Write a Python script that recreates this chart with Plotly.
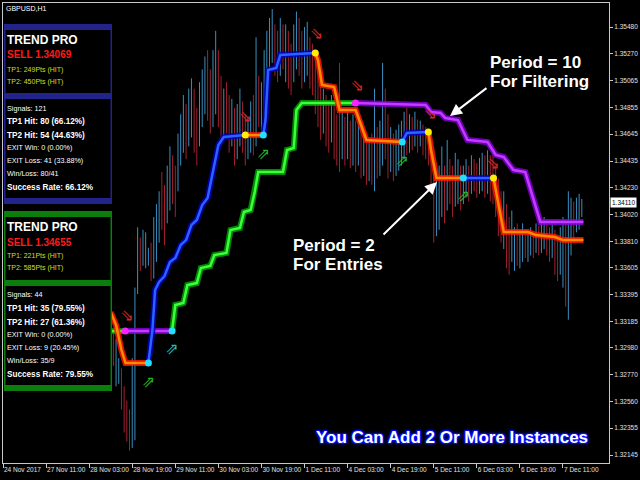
import plotly.graph_objects as go

# ---------------- data ----------------
x_tick_idx = [0, 16, 32, 48, 64, 80, 96, 112, 128, 144, 160, 176, 192, 208]
x_tick_text = ["24 Nov 2017", "27 Nov 11:00", "28 Nov 03:00", "28 Nov 19:00",
               "29 Nov 11:00", "30 Nov 03:00", "30 Nov 19:00", "1 Dec 11:00",
               "4 Dec 03:00", "4 Dec 19:00", "5 Dec 11:00", "6 Dec 03:00",
               "6 Dec 19:00", "7 Dec 11:00"]
y_tick_vals = [1.35480, 1.35270, 1.35065, 1.34855, 1.34645, 1.34435, 1.34230,
               1.34020, 1.33810, 1.33605, 1.33395, 1.33185, 1.32980, 1.32770,
               1.32560, 1.32355, 1.32145]
last_price = 1.34110

first_bar = 40
bar_low = [
    1.3300, 1.3284, 1.3268, 1.3270, 1.3250, 1.3232, 1.3225, 1.3218, 1.3220, 1.3226,
    1.3340, 1.3358, 1.3362, 1.3360, 1.3362, 1.3350, 1.3352, 1.3365, 1.3380, 1.3390,
    1.3378, 1.3395, 1.3405, 1.3410, 1.3400, 1.3420, 1.3440, 1.3450, 1.3445, 1.3455,
    1.3462, 1.3450, 1.3440, 1.3455, 1.3470, 1.3480, 1.3475, 1.3465, 1.3470, 1.3480,
    1.3470, 1.3455, 1.3460, 1.3465, 1.3450, 1.3455, 1.3440, 1.3445, 1.3455, 1.3450,
    1.3440, 1.3445, 1.3450, 1.3448, 1.3455, 1.3470, 1.3465, 1.3480, 1.3500, 1.3515,
    1.3520, 1.3510, 1.3505, 1.3510, 1.3515, 1.3505, 1.3500, 1.3495, 1.3505, 1.3515,
    1.3510, 1.3500, 1.3505, 1.3510, 1.3500, 1.3495, 1.3480, 1.3470, 1.3460, 1.3465,
    1.3455, 1.3450, 1.3458, 1.3445, 1.3440, 1.3435, 1.3445, 1.3440, 1.3445, 1.3438,
    1.3440, 1.3435, 1.3440, 1.3430, 1.3432, 1.3425, 1.3428, 1.3425, 1.3420, 1.3430,
    1.3432, 1.3440, 1.3445, 1.3430, 1.3435, 1.3428, 1.3432, 1.3436, 1.3440, 1.3445,
    1.3448, 1.3450, 1.3452, 1.3455, 1.3450, 1.3455, 1.3448, 1.3445, 1.3440, 1.3420,
    1.3380, 1.3385, 1.3390, 1.3400, 1.3395, 1.3405, 1.3410, 1.3400, 1.3408, 1.3410,
    1.3405, 1.3410, 1.3415, 1.3412, 1.3418, 1.3420, 1.3415, 1.3418, 1.3420, 1.3415,
    1.3418, 1.3412, 1.3410, 1.3400, 1.3385, 1.3380, 1.3375, 1.3360, 1.3355, 1.3365,
    1.3358, 1.3362, 1.3360, 1.3365, 1.3368, 1.3365, 1.3370, 1.3368, 1.3372, 1.3370,
    1.3372, 1.3375, 1.3370, 1.3365, 1.3368, 1.3355, 1.3350, 1.3355, 1.3345, 1.3330,
    1.3320, 1.3370, 1.3380, 1.3388, 1.3390, 1.3400,
]
bar_high = [
    1.3335, 1.3311, 1.3305, 1.3290, 1.3282, 1.3268, 1.3257, 1.3250, 1.3290, 1.3345,
    1.3392, 1.3384, 1.3390, 1.3388, 1.3376, 1.3380, 1.3400, 1.3410, 1.3420, 1.3435,
    1.3425, 1.3440, 1.3455, 1.3448, 1.3440, 1.3465, 1.3480, 1.3495, 1.3488, 1.3500,
    1.3508, 1.3500, 1.3485, 1.3505, 1.3515, 1.3525, 1.3530, 1.3515, 1.3530, 1.3545,
    1.3530, 1.3510, 1.3500, 1.3505, 1.3495, 1.3492, 1.3485, 1.3488, 1.3500, 1.3490,
    1.3480, 1.3478, 1.3490, 1.3495, 1.3540, 1.3510, 1.3505, 1.3530, 1.3545, 1.3555,
    1.3562, 1.3550, 1.3545, 1.3555, 1.3550, 1.3550, 1.3545, 1.3535, 1.3550, 1.3560,
    1.3555, 1.3545, 1.3548, 1.3552, 1.3540, 1.3535, 1.3525, 1.3520, 1.3510, 1.3500,
    1.3495, 1.3490, 1.3495, 1.3490, 1.3480, 1.3520, 1.3485, 1.3478, 1.3482, 1.3475,
    1.3480, 1.3475, 1.3478, 1.3470, 1.3465, 1.3460, 1.3462, 1.3465, 1.3500, 1.3470,
    1.3475, 1.3520, 1.3500, 1.3480, 1.3470, 1.3465, 1.3468, 1.3472, 1.3475, 1.3482,
    1.3485, 1.3480, 1.3478, 1.3482, 1.3476, 1.3475, 1.3472, 1.3470, 1.3468, 1.3460,
    1.3440, 1.3430, 1.3440, 1.3455, 1.3440, 1.3460, 1.3445, 1.3440, 1.3450, 1.3445,
    1.3440, 1.3440, 1.3445, 1.3440, 1.3448, 1.3445, 1.3442, 1.3446, 1.3450, 1.3448,
    1.3452, 1.3448, 1.3450, 1.3440, 1.3430, 1.3420, 1.3420, 1.3410, 1.3400, 1.3405,
    1.3392, 1.3395, 1.3390, 1.3395, 1.3390, 1.3388, 1.3392, 1.3388, 1.3395, 1.3393,
    1.3398, 1.3400, 1.3395, 1.3392, 1.3396, 1.3390, 1.3385, 1.3392, 1.3400, 1.3398,
    1.3420, 1.3415, 1.3412, 1.3415, 1.3418, 1.3414,
]
bar_dir = ("dduudddduu" "uduuuduuud" "duudduuudu" "udduuudduu" "ddudduduud"
           "duududuuuu" "uddududduu" "dduudddddu" "ddudddudud" "ududududud"
           "uudduduuuu" "dudududddd" "duuududduu" "duududduud" "uddddduddu"
           "uduuduudud" "uuddudduud" "uuduuu")

# Trend Pro, period 2 (entries): vertices (bar index, price) and trend of each segment
fast_idx = [40, 42, 44, 45.5, 54, 55.5, 56.5, 58, 60, 62, 64, 66, 68, 70, 72, 74, 76,
            78, 80, 82, 90, 96.7, 97.5, 98.5, 101.5, 103, 116, 117, 118.5, 123, 125,
            131, 135, 148.3, 150, 158, 159, 161, 171, 182.2, 183, 186, 195, 198, 205,
            208, 215.6]
fast_val = [1.33259, 1.33158, 1.32963, 1.32862, 1.32862, 1.33119, 1.33431, 1.33493,
            1.33540, 1.33649, 1.33680, 1.33781, 1.33820, 1.33937, 1.33976, 1.34093,
            1.34148, 1.34366, 1.34561, 1.34623, 1.34638, 1.34638, 1.34755, 1.35145,
            1.35161, 1.35262, 1.35277, 1.35223, 1.35028, 1.35012, 1.34833, 1.34833,
            1.34600, 1.34584, 1.34654, 1.34662, 1.34522, 1.34303, 1.34303, 1.34303,
            1.34210, 1.33883, 1.33883, 1.33859, 1.33844, 1.33820, 1.33820]
fast_trend = ("dddd" "uuuuuuuuuuuuuuuu" "d" "uuuuu" "ddddddd" "uu" "ddd" "u" "ddddddd")

# Trend Pro, period 10 (filter)
slow_idx = [40, 45.4, 62.8, 64, 67, 68.5, 72, 73.5, 77, 78.5, 83, 84.5, 88, 89.5, 92,
            93.5, 94.8, 104, 105.5, 108, 109, 111, 130.9, 157, 159, 162.5, 164.3, 169,
            172.5, 180, 183, 186, 189.6, 194, 199.6, 215.6]
slow_val = [1.33111, 1.33111, 1.33111, 1.33314, 1.33329, 1.33470, 1.33485, 1.33602,
            1.33618, 1.33703, 1.33719, 1.33898, 1.33914, 1.34039, 1.34054, 1.34194,
            1.34350, 1.34350, 1.34522, 1.34537, 1.34833, 1.34888, 1.34888, 1.34872,
            1.34818, 1.34810, 1.34771, 1.34755, 1.34600, 1.34584, 1.34483, 1.34467,
            1.34366, 1.34350, 1.33961, 1.33961]
slow_trend = ("u" "d" "uuuuuuuuuuuuuuuuuuuu" "ddddddddddddd")

# signal arrows
sig_idx = [46, 54, 62.8, 90, 96.7, 116.4, 131.6, 148.3, 158.7, 171, 182]
sig_val = [1.33220, 1.32706, 1.32963, 1.34771, 1.34483, 1.35418, 1.35012, 1.34428,
           1.34794, 1.34155, 1.34405]
sig_kind = ["sell", "buy", "buy2", "sell", "buy", "sell", "sell", "buy", "sell",
            "buy", "sell"]

panel1_head = ["TREND PRO", "SELL 1.34069", "TP1: 249Pts (HIT)", "TP2: 450Pts (HIT)"]
panel1_stats = ["Signals: 121", "TP1 Hit: 80 (66.12%)", "TP2 Hit: 54 (44.63%)",
                "EXIT Win: 0 (0.00%)", "EXIT Loss: 41 (33.88%)", "Win/Loss: 80/41",
                "Success Rate: 66.12%"]
panel2_head = ["TREND PRO", "SELL 1.34655", "TP1: 221Pts (HIT)", "TP2: 585Pts (HIT)"]
panel2_stats = ["Signals: 44", "TP1 Hit: 35 (79.55%)", "TP2 Hit: 27 (61.36%)",
                "EXIT Win: 0 (0.00%)", "EXIT Loss: 9 (20.45%)", "Win/Loss: 35/9",
                "Success Rate: 79.55%"]

# ---------------- geometry helpers ----------------
W, H = 640, 480
ML, MR, MT, MB = 3, 31, 3, 17
PW, PH = W - ML - MR, H - MT - MB


def fx(px):
    return (px - ML) / PW


def fy(py):
    return (H - MB - py) / PH


FONT = "Liberation Sans"
fig = go.Figure()

# ---------------- price bars ----------------
for d, col in (("u", "#3a8fc0"), ("d", "#a3202e")):
    xs, ys = [], []
    for k, (lo, hi) in enumerate(zip(bar_low, bar_high)):
        if bar_dir[k] == d:
            i = first_bar + k
            xs += [i, i, None]
            ys += [lo, hi, None]
    fig.add_trace(go.Scatter(x=xs, y=ys, mode="lines",
                             line=dict(color=col, width=1), hoverinfo="skip"))


def runs(idx, val, trend):
    out = {}
    start = 0
    n = len(trend)
    for k in range(1, n + 1):
        if k == n or trend[k] != trend[start]:
            t = trend[start]
            xs, ys = out.setdefault(t, ([], []))
            xs.extend(list(idx[start:k + 1]) + [None])
            ys.extend(list(val[start:k + 1]) + [None])
            start = k
    return out


line_styles = {
    ("fast", "d"): ("#ff8a00", "rgba(255,20,0,0.85)"),
    ("fast", "u"): ("#2a62ff", "rgba(0,0,190,0.85)"),
    ("slow", "u"): ("#3cff3c", "rgba(0,160,0,0.85)"),
    ("slow", "d"): ("#c23cff", "rgba(130,0,210,0.85)"),
}
for name, idx, val, trend in (("slow", slow_idx, slow_val, slow_trend),
                              ("fast", fast_idx, fast_val, fast_trend)):
    segs = runs(idx, val, trend)
    for t, (xs, ys) in segs.items():
        core, glow = line_styles[(name, t)]
        fig.add_trace(go.Scatter(x=xs, y=ys, mode="lines",
                                 line=dict(color=glow, width=6), hoverinfo="skip"))
        fig.add_trace(go.Scatter(x=xs, y=ys, mode="lines",
                                 line=dict(color=core, width=2.5), hoverinfo="skip"))
    # signal dots at trend changes
    dx, dy, dc = [], [], []
    for k in range(1, len(trend)):
        if trend[k] != trend[k - 1]:
            dx.append(idx[k])
            dy.append(val[k])
            if name == "fast":
                dc.append("#ffee00" if trend[k] == "d" else "#22e0ff")
            else:
                dc.append("#ff20ff" if trend[k] == "d" else "#22e0ff")
    fig.add_trace(go.Scatter(x=dx, y=dy, mode="markers",
                             marker=dict(color=dc, size=7), hoverinfo="skip"))

# signal arrows
arrow_glyph = {"sell": "⇘", "buy": "⇗", "buy2": "⇗"}
arrow_col = {"sell": "#d42424", "buy": "#22b422", "buy2": "#22b8b8"}
fig.add_trace(go.Scatter(
    x=sig_idx, y=sig_val, mode="text",
    text=[arrow_glyph[k] for k in sig_kind],
    textfont=dict(family="DejaVu Sans", size=16, color=[arrow_col[k] for k in sig_kind]),
    hoverinfo="skip"))

# ---------------- panels ----------------
shapes = []
annotations = []


def rect(x0, y0, x1, y1, color):
    shapes.append(dict(type="rect", xref="paper", yref="paper", layer="above",
                       x0=fx(x0), x1=fx(x1), y0=fy(y1), y1=fy(y0),
                       fillcolor=color, line=dict(width=0)))


def text(px, py, s, size, color, bold=False, anchor="left"):
    annotations.append(dict(xref="paper", yref="paper", x=fx(px), y=fy(py),
                            xanchor=anchor, yanchor="middle", showarrow=False,
                            borderpad=0,
                            text=("<b>%s</b>" % s) if bold else s,
                            font=dict(family=FONT, size=size, color=color)))


def panel(top, sep, bottom, color, head, stats, head_y, stats_y):
    rect(4, top, 112, bottom + 6, "#000000")
    rect(4, top, 112, top + 6, color)
    rect(4, sep, 112, sep + 6, color)
    rect(4, bottom, 112, bottom + 6, color)
    rect(4, top, 5.5, bottom + 6, color)
    rect(110.5, top, 112, bottom + 6, color)
    text(6, head_y[0], head[0], 12, "#ffffff", bold=True)
    text(6, head_y[1], head[1], 10, "#ff1a1a", bold=True)
    text(6, head_y[2], head[2], 7, "#dcdc1e")
    text(6, head_y[3], head[3], 7, "#dcdc1e")
    for k, s in enumerate(stats):
        b = s.startswith("TP") or s.startswith("Success")
        text(6, stats_y[k], s, 8.2 if b else 7.2, "#ffffff", bold=b)


panel(24, 93, 198, "#23238c", panel1_head, panel1_stats,
      [40, 54, 70, 82], [108, 122, 135, 147, 160, 173, 187])
panel(211, 280, 385, "#0b7e0b", panel2_head, panel2_stats,
      [227, 242, 256, 268], [294, 308, 322, 334, 347, 360, 374])

# symbol caption
text(5, 8, "GBPUSD,H1", 7, "#ffffff")

# explanatory texts
text(489, 62, "Period = 10", 17, "#ffffff", bold=True)
text(489, 81, "For Filtering", 17, "#ffffff", bold=True)
text(292, 245, "Period = 2", 17, "#ffffff", bold=True)
text(292, 264, "For Entries", 17, "#ffffff", bold=True)
annotations.append(dict(
    xref="paper", yref="paper", x=fx(315), y=fy(437), xanchor="left", yanchor="middle",
    showarrow=False, text="<b>You Can Add 2 Or More Instances</b>", borderpad=0,
    font=dict(family=FONT, size=17, color="#ffffff",
              shadow="1px 1px 1px #0010ff, -1px -1px 1px #0010ff, 1px -1px 1px #0010ff, "
                     "-1px 1px 1px #0010ff, 0px 0px 4px #0010ff")))

# white pointer arrows
for hx, hy, tx, ty in ((450, 116, 488, 87), (437, 182, 382, 236)):
    annotations.append(dict(xref="paper", yref="paper", x=fx(hx), y=fy(hy),
                            ax=tx - hx, ay=ty - hy, text="", showarrow=True,
                            arrowhead=2, arrowsize=1.2, arrowwidth=2,
                            arrowcolor="#ffffff"))

# current price label
annotations.append(dict(xref="paper", yref="y", x=1, y=last_price, xanchor="left",
                        yanchor="middle", xshift=1, showarrow=False,
                        text="1.34110", bgcolor="#ffffff", borderpad=1,
                        font=dict(family=FONT, size=6.5, color="#000000")))

fig.update_layout(
    width=W, height=H,
    margin=dict(l=ML, r=MR, t=MT, b=MB, pad=0, autoexpand=False),
    paper_bgcolor="#000000", plot_bgcolor="#000000",
    showlegend=False,
    shapes=shapes, annotations=annotations,
    xaxis=dict(range=[0, 225.1], tickvals=x_tick_idx, ticktext=x_tick_text,
               ticks="outside", ticklen=4, tickcolor="#c8c8c8", tickangle=0,
               ticklabelposition="outside right", automargin=False,
               tickfont=dict(family=FONT, size=6.5, color="#e0e0e0"),
               showgrid=False, zeroline=False, showline=True, mirror=True,
               linecolor="#c8c8c8", linewidth=1, fixedrange=True),
    yaxis=dict(range=[1.32083, 1.35667], side="right", automargin=False,
               tickvals=y_tick_vals, ticktext=["%.5f" % v for v in y_tick_vals],
               ticks="outside", ticklen=3, tickcolor="#c8c8c8",
               tickfont=dict(family=FONT, size=6.5, color="#e0e0e0"),
               showgrid=False, zeroline=False, showline=True, mirror=True,
               linecolor="#c8c8c8", linewidth=1, fixedrange=True),
)

fig.write_html("out.html", config={"displayModeBar": False},
               post_script="document.body.style.margin='0';"
                           "document.body.style.background='#000';")
